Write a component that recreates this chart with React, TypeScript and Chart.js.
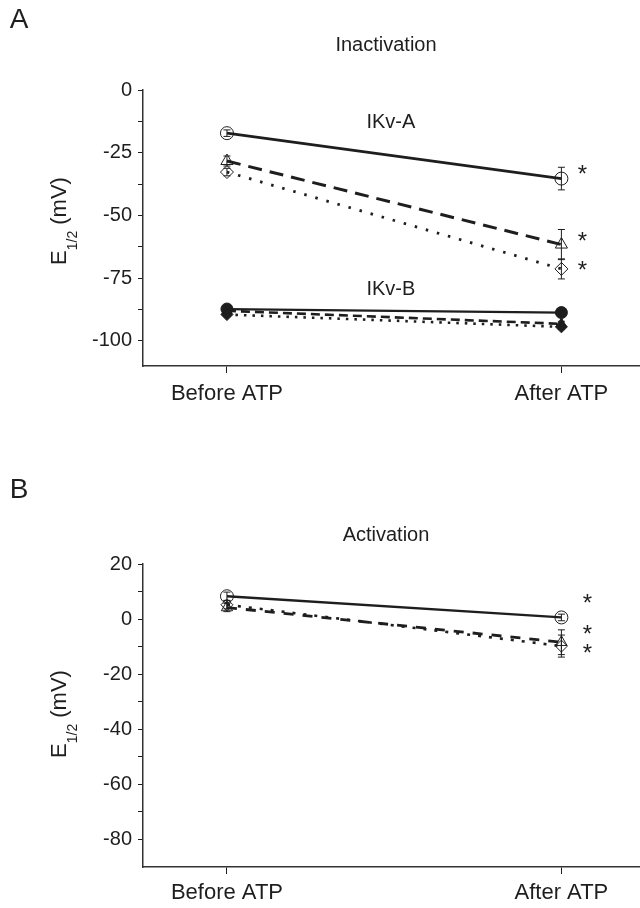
import React, { useEffect, useRef } from 'react';
import { Chart, registerables } from 'chart.js';

Chart.register(...registerables);

const INK = '#1e1e1e';
const FONT = "'Liberation Sans', Arial, Helvetica, sans-serif";

// ---------- shared categories ----------
const categories = ['Before ATP', 'After ATP'];
const xSlots = [0, 1];

// ---------- Panel A: Inactivation ----------
const inactMajorTicks = [-100, -75, -50, -25, 0];
const ikvACircle = [-17.2, -35.3];
const ikvACircleErr = [1.3, 4.5];
const ikvATriangle = [-28.3, -61.6];
const ikvATriangleErr = [2.0, 6.0];
const ikvADiamond = [-32.7, -71.3];
const ikvADiamondErr = [1.5, 4.0];
const ikvBCircle = [-87.3, -88.7];
const ikvBCircleErr = [0.8, 0.8];
const ikvBTriangle = [-88.0, -93.2];
const ikvBTriangleErr = [0.8, 1.0];
const ikvBDiamond = [-89.5, -94.4];
const ikvBDiamondErr = [0.8, 1.0];
const inactStars = [-32.8, -59.5, -70.8];

// ---------- Panel B: Activation ----------
const actMajorTicks = [-80, -60, -40, -20, 0, 20];
const actCircle = [8.3, 0.6];
const actCircleErr = [1.5, 1.2];
const actTriangle = [4.2, -8.4];
const actTriangleErr = [1.5, 4.5];
const actDiamond = [5.2, -9.8];
const actDiamondErr = [1.5, 4.0];
const actStars = [6.5, -4.7, -11.6];

type Series = {
  values: number[];
  errors: number[];
  marker: string;
  filled: boolean;
  dash: number[];
  width: number;
  radius: number;
};

type TextItem = { text: string; x: number; y: number };

type Panel = {
  series: Series[];
  yMin: number;
  yMax: number;
  majors: number[];
  title: string;
  letter: string;
  labels: TextItem[];
  stars: number[];
  starDx: number;
  padTop: number;
  xAxisHeight: number;
  xLabelPad: number;
  titleY: number;
  letterY: number;
  yTitleY: number;
};

const SOLID: number[] = [];
const DASHED = [14, 8];
const DOTTED = [2.5, 9];

const panelA: Panel = {
  series: [
    { values: ikvACircle, errors: ikvACircleErr, marker: 'circle', filled: false, dash: SOLID, width: 2.7, radius: 6.5 },
    { values: ikvATriangle, errors: ikvATriangleErr, marker: 'triangle', filled: false, dash: DASHED, width: 3, radius: 7 },
    { values: ikvADiamond, errors: ikvADiamondErr, marker: 'rectRot', filled: false, dash: DOTTED, width: 2.8, radius: 6.5 },
    { values: ikvBCircle, errors: ikvBCircleErr, marker: 'circle', filled: true, dash: SOLID, width: 2.3, radius: 6 },
    { values: ikvBTriangle, errors: ikvBTriangleErr, marker: 'triangle', filled: true, dash: [9, 5], width: 2.6, radius: 6 },
    { values: ikvBDiamond, errors: ikvBDiamondErr, marker: 'rectRot', filled: true, dash: [2.5, 6], width: 2.6, radius: 6 },
  ],
  yMin: -110,
  yMax: 0,
  majors: inactMajorTicks,
  title: 'Inactivation',
  letter: 'A',
  labels: [
    { text: 'IKv-A', x: 0.49, y: -13 },
    { text: 'IKv-B', x: 0.49, y: -79.5 },
  ],
  stars: inactStars,
  starDx: 21,
  padTop: 90,
  xAxisHeight: 88,
  xLabelPad: 8,
  titleY: 45,
  letterY: 20,
  yTitleY: 221,
};

const panelB: Panel = {
  series: [
    { values: actCircle, errors: actCircleErr, marker: 'circle', filled: false, dash: SOLID, width: 2.3, radius: 6.5 },
    { values: actTriangle, errors: actTriangleErr, marker: 'triangle', filled: false, dash: [10, 9], width: 2.8, radius: 6.5 },
    { values: actDiamond, errors: actDiamondErr, marker: 'rectRot', filled: false, dash: [3, 8], width: 2.6, radius: 6 },
  ],
  yMin: -90,
  yMax: 20,
  majors: actMajorTicks,
  title: 'Activation',
  letter: 'B',
  labels: [],
  stars: actStars,
  starDx: 26,
  padTop: 110,
  xAxisHeight: 41,
  xLabelPad: 6,
  titleY: 81,
  letterY: 36,
  yTitleY: 260,
};

function drawYTitle(ctx: CanvasRenderingContext2D, cx: number, cy: number) {
  const big = `22px ${FONT}`;
  const small = `14px ${FONT}`;
  ctx.save();
  ctx.translate(cx, cy);
  ctx.rotate(-Math.PI / 2);
  ctx.fillStyle = INK;
  ctx.textBaseline = 'alphabetic';
  ctx.textAlign = 'left';
  ctx.font = big;
  const wE = ctx.measureText('E').width;
  ctx.font = small;
  const wS = ctx.measureText('1/2').width;
  ctx.font = big;
  const wU = ctx.measureText(' (mV)').width;
  let x = -(wE + wS + wU) / 2;
  ctx.font = big;
  ctx.fillText('E', x, 8);
  x += wE;
  ctx.font = small;
  ctx.fillText('1/2', x, 19);
  x += wS;
  ctx.font = big;
  ctx.fillText(' (mV)', x, 8);
  ctx.restore();
}

function makeOverlay(panel: Panel) {
  return {
    id: 'overlay' + panel.letter,
    afterDatasetsDraw(chart: any) {
      const ctx: CanvasRenderingContext2D = chart.ctx;
      const ys = chart.scales.y;
      ctx.save();
      ctx.strokeStyle = INK;
      ctx.lineWidth = 1;
      ctx.setLineDash([]);
      panel.series.forEach((s, di) => {
        const meta = chart.getDatasetMeta(di);
        meta.data.forEach((pt: any, i: number) => {
          const e = s.errors[i];
          if (!e) return;
          const yT = ys.getPixelForValue(s.values[i] + e);
          const yB = ys.getPixelForValue(s.values[i] - e);
          const x = pt.x;
          ctx.beginPath();
          ctx.moveTo(x, yT);
          ctx.lineTo(x, yB);
          ctx.moveTo(x - 3.5, yT);
          ctx.lineTo(x + 3.5, yT);
          ctx.moveTo(x - 3.5, yB);
          ctx.lineTo(x + 3.5, yB);
          ctx.stroke();
        });
      });
      ctx.restore();
    },
    afterDraw(chart: any) {
      const ctx: CanvasRenderingContext2D = chart.ctx;
      const xs = chart.scales.x;
      const ys = chart.scales.y;
      ctx.save();
      ctx.fillStyle = INK;
      ctx.font = `28px ${FONT}`;
      ctx.textAlign = 'center';
      ctx.textBaseline = 'middle';
      ctx.fillText(panel.letter, 19, panel.letterY);
      ctx.font = `20px ${FONT}`;
      ctx.fillText(panel.title, 386, panel.titleY);
      panel.labels.forEach((l) => {
        ctx.fillText(l.text, xs.getPixelForValue(l.x), ys.getPixelForValue(l.y));
      });
      ctx.font = `24px ${FONT}`;
      ctx.textBaseline = 'alphabetic';
      const sx = xs.getPixelForValue(xSlots[1]) + panel.starDx;
      panel.stars.forEach((v) => {
        ctx.fillText('*', sx, ys.getPixelForValue(v) + 10);
      });
      ctx.restore();
      drawYTitle(ctx, 58, panel.yTitleY);
    },
  };
}

function buildConfig(panel: Panel): any {
  return {
    type: 'line',
    data: {
      datasets: panel.series.map((s) => ({
        data: xSlots.map((x, i) => ({ x, y: s.values[i] })),
        borderColor: INK,
        borderWidth: s.width,
        borderDash: s.dash,
        pointStyle: s.marker,
        pointRadius: s.radius,
        pointBorderWidth: 1,
        pointBorderColor: INK,
        pointBackgroundColor: s.filled ? INK : 'rgba(0,0,0,0)',
        fill: false,
        tension: 0,
        clip: false,
      })),
    },
    options: {
      responsive: false,
      maintainAspectRatio: false,
      animation: false,
      devicePixelRatio: 1,
      layout: { autoPadding: false, padding: { top: panel.padTop, left: 0, right: 0, bottom: 0 } },
      plugins: {
        legend: { display: false },
        tooltip: { enabled: false },
        title: { display: false },
      },
      scales: {
        x: {
          type: 'linear',
          min: -0.251,
          max: 1.235,
          afterBuildTicks: (s: any) => {
            s.ticks = xSlots.map((v) => ({ value: v }));
          },
          afterFit: (s: any) => {
            s.height = panel.xAxisHeight;
            s.paddingLeft = 0;
            s.paddingRight = 0;
          },
          ticks: {
            autoSkip: false,
            maxRotation: 0,
            padding: panel.xLabelPad,
            color: INK,
            font: { family: FONT, size: 22 },
            callback: (v: number) => {
              const idx = xSlots.indexOf(v);
              return idx >= 0 ? categories[idx] : '';
            },
          },
          grid: { display: true, drawOnChartArea: false, drawTicks: true, tickLength: 7, color: INK, lineWidth: 1 },
          border: { display: true, color: '#333', width: 1.5 },
        },
        y: {
          type: 'linear',
          min: panel.yMin,
          max: panel.yMax,
          afterBuildTicks: (s: any) => {
            const m = panel.majors;
            const vals: number[] = [];
            for (let i = 0; i < m.length; i++) {
              vals.push(m[i]);
              if (i < m.length - 1) vals.push((m[i] + m[i + 1]) / 2);
            }
            s.ticks = vals.map((v) => ({ value: v }));
          },
          afterFit: (s: any) => {
            s.width = 143;
          },
          ticks: {
            autoSkip: false,
            padding: 6,
            color: INK,
            font: { family: FONT, size: 20 },
            callback: (v: number) => (panel.majors.includes(v) ? String(v) : ''),
          },
          grid: { display: true, drawOnChartArea: false, drawTicks: true, tickLength: 5, color: INK, lineWidth: 1 },
          border: { display: true, color: '#333', width: 1.5 },
        },
      },
    },
    plugins: [makeOverlay(panel)],
  };
}

function PanelChart({ panel, top }: { panel: Panel; top: number }) {
  const ref = useRef<HTMLCanvasElement | null>(null);
  useEffect(() => {
    if (!ref.current) return;
    const chart = new Chart(ref.current, buildConfig(panel));
    return () => chart.destroy();
  }, [panel]);
  return (
    <div style={{ position: 'absolute', left: 0, top, width: 640, height: 454 }}>
      <canvas ref={ref} width={640} height={454} style={{ width: 640, height: 454, display: 'block' }} />
    </div>
  );
}

export default function App() {
  return (
    <div style={{ position: 'absolute', left: 0, top: 0, width: 640, height: 908, background: '#fff' }}>
      <PanelChart panel={panelA} top={0} />
      <PanelChart panel={panelB} top={454} />
    </div>
  );
}
